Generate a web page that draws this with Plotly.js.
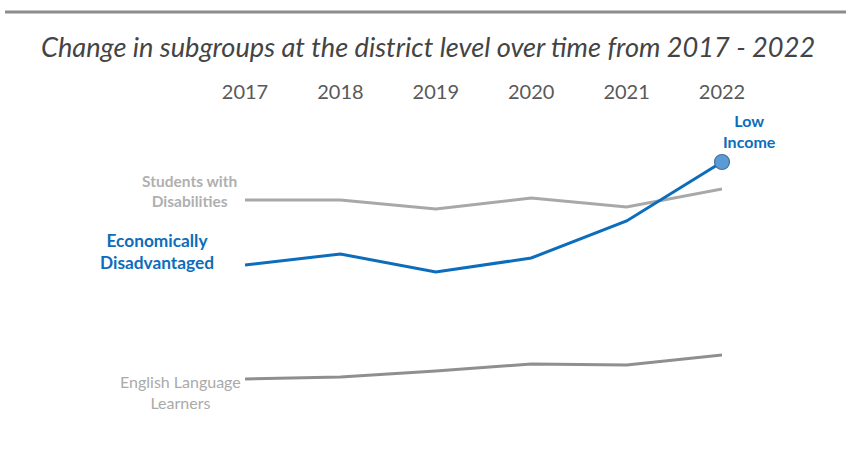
<!DOCTYPE html>
<html>
<head>
<meta charset="utf-8">
<script src="https://cdn.plot.ly/plotly-3.0.1.min.js"></script>
<style>html,body{margin:0;padding:0;background:#fff;}#chart{width:846px;height:449px;}</style>
</head>
<body>
<div id="chart"></div>
<script>
const years = [2017, 2018, 2019, 2020, 2021, 2022];
const tickLabels = ["2017", "2018", "2019", "2020", "2021", "2022"];
const swd = [55, 55, 52.75, 55.5, 53.25, 57.75];
const econ = [38.75, 41.5, 37, 40.5, 49.75, 64.5];
const ell = [10.25, 10.75, 12.25, 14, 13.75, 16.25];

const FONT = "Lato, 'Open Sans', sans-serif";
const BLUE = "#0b6dbb";

const traces = [
  {x: years, y: swd, mode: "lines", line: {color: "#a8a8a8", width: 3}, hoverinfo: "skip", cliponaxis: false},
  {x: years, y: ell, mode: "lines", line: {color: "#8f8f8f", width: 3}, hoverinfo: "skip", cliponaxis: false},
  {x: years, y: econ, mode: "lines", line: {color: BLUE, width: 3}, hoverinfo: "skip", cliponaxis: false},
  {x: [years[years.length-1]], y: [econ[econ.length-1]], mode: "markers", cliponaxis: false,
   marker: {size: 15, color: "#5b9bd5", line: {color: "#41719c", width: 1.2}}, hoverinfo: "skip"}
];

const layout = {
  width: 846, height: 449,
  margin: {l: 245, r: 124, t: 140, b: 49},
  paper_bgcolor: "#fff", plot_bgcolor: "#fff",
  showlegend: false,
  font: {family: FONT},
  title: {text: "<i>Change in subgroups at the district level over time from 2017 - 2022</i>",
    x: 0.506, xref: "container", xanchor: "center",
    y: 1 - 47/449, yref: "container", yanchor: "middle",
    font: {family: FONT, size: 27.2, color: "#444"}},
  xaxis: {side: "top", range: [2017, 2022], tickvals: years, ticktext: tickLabels,
    showgrid: false, zeroline: false, showline: false,
    ticks: "outside", ticklen: 32, tickcolor: "rgba(0,0,0,0)",
    tickfont: {family: FONT, size: 20, color: "#595959"}, fixedrange: true},
  yaxis: {range: [5, 70], visible: false, fixedrange: true},
  shapes: [{type: "line", xref: "paper", yref: "paper",
    x0: (5-245)/477, x1: (846-245)/477, y0: (400-12)/260, y1: (400-12)/260,
    line: {color: "#8c8c8c", width: 3}}],
  annotations: [
    {x: 2017, y: 57.25, xref: "x", yref: "y", xanchor: "right", yanchor: "middle", xshift: -6,
     text: "<b>Students with<br>Disabilities</b>", showarrow: false, align: "center",
     font: {family: FONT, size: 15.5, color: "#b0b0b0"}},
    {x: 2017, y: 42.25, xref: "x", yref: "y", xanchor: "right", yanchor: "middle", xshift: -29,
     text: "<b>Economically<br>Disadvantaged</b>", showarrow: false, align: "center",
     font: {family: FONT, size: 17.3, color: BLUE}},
    {x: 2017, y: 7, xref: "x", yref: "y", xanchor: "right", yanchor: "middle", xshift: -2,
     text: "English Language<br>Learners", showarrow: false, align: "center",
     font: {family: FONT, size: 16, color: "#aaaaaa"}},
    {x: 2022, y: 64.5, xref: "x", yref: "y", xanchor: "center", yanchor: "middle", xshift: 27, yshift: 31,
     text: "<b>Low<br>Income</b>", showarrow: false, align: "center",
     font: {family: FONT, size: 16, color: BLUE}}
  ]
};

Plotly.newPlot("chart", traces, layout, {displayModeBar: false, staticPlot: true});
</script>
</body>
</html>
